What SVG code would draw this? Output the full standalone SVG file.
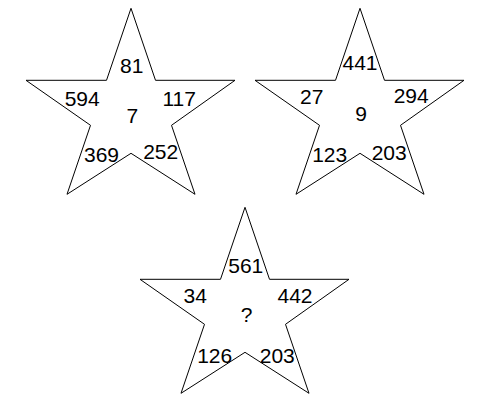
<svg xmlns="http://www.w3.org/2000/svg" width="478" height="403" viewBox="0 0 478 403">
<style>
.star{fill:#fff;stroke:#000;stroke-width:1}
text{font-family:"Liberation Sans",Arial,sans-serif;font-size:21px;fill:#000;text-anchor:middle}
</style>
<defs>
<path id="star" d="M0,0 L24.5,72 L104,72 L40.5,117 L64,186 L0,145 L-64,186 L-40.5,117 L-105,72 L-24.5,72 Z"/>
</defs>
<rect width="478" height="403" fill="#fff"/>
<g id="star1">
<use href="#star" class="star" transform="translate(131,8.3)"/>
<text x="131.7" y="72.7">81</text>
<text x="82.2" y="106">594</text>
<text x="179.2" y="106">117</text>
<text x="132.3" y="123.3">7</text>
<text x="101.5" y="162.3">369</text>
<text x="160.7" y="159.3">252</text>
</g>
<g id="star2">
<use href="#star" class="star" transform="translate(360,8.3)"/>
<text x="360" y="70">441</text>
<text x="311.7" y="104.3">27</text>
<text x="411.2" y="102.7">294</text>
<text x="361" y="120.7">9</text>
<text x="329.7" y="161.7">123</text>
<text x="389.2" y="160">203</text>
</g>
<g id="star3">
<use href="#star" class="star" transform="translate(245,207.3)"/>
<text x="245.8" y="272.7">561</text>
<text x="195.2" y="303.3">34</text>
<text x="295" y="302.7">442</text>
<text x="246.7" y="321.7">?</text>
<text x="214.7" y="362.7">126</text>
<text x="277.3" y="362.7">203</text>
</g>
<g id="connectors"></g>
</svg>
